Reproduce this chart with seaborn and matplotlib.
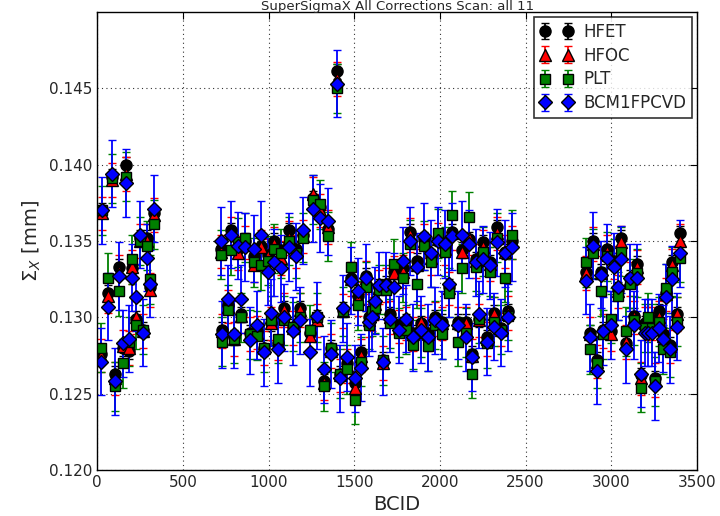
import numpy as np
import pandas as pd
import matplotlib
matplotlib.use("Agg")
import matplotlib.pyplot as plt
import seaborn as sns

# BCID positions of the colliding bunches
bcid = [20, 30, 65, 84, 104, 129, 148, 167, 186, 205, 228, 248, 267, 290, 311, 334,
        724, 728, 762, 782, 801, 820, 840, 860, 894, 913, 932, 955, 971, 994, 1013, 1032,
        1055, 1074, 1093, 1118, 1141, 1162, 1181, 1200, 1242, 1261, 1284, 1300, 1324, 1347,
        1366, 1400, 1417, 1436, 1459, 1484, 1503, 1522, 1541, 1566, 1585, 1604, 1623, 1646,
        1669, 1685, 1708, 1733, 1762, 1785, 1804, 1824, 1843, 1864, 1887, 1906, 1931, 1950,
        1969, 1989, 2012, 2031, 2054, 2069, 2104, 2128, 2152, 2171, 2190, 2211, 2230, 2253,
        2272, 2291, 2317, 2336, 2359, 2378, 2397, 2420,
        2854, 2873, 2896, 2915, 2938, 2953, 2976, 2999, 3017, 3038, 3059, 3088, 3107, 3130,
        3151, 3174, 3194, 3212, 3235, 3257, 3276, 3299, 3318, 3341, 3356, 3381, 3400]

hfet = [0.1276, 0.1370, 0.1316, 0.1392, 0.1263, 0.1333, 0.1280, 0.1400, 0.1278, 0.1332, 0.1299, 0.1352, 0.1292, 0.1352, 0.1320, 0.1368,
        0.1345, 0.1292, 0.1308, 0.1357, 0.1287, 0.1345, 0.1302, 0.1350, 0.1290, 0.1340, 0.1291, 0.1347, 0.1280, 0.1341, 0.1296, 0.1350,
        0.1283, 0.1344, 0.1306, 0.1357, 0.1294, 0.1345, 0.1306, 0.1354, 0.1290, 0.1378, 0.1300, 0.1372, 0.1258, 0.1358,
        0.1280, 0.1461, 0.1263, 0.1305, 0.1270, 0.1326, 0.1257, 0.1314, 0.1277, 0.1327, 0.1300, 0.1303, 0.1310, 0.1320,
        0.1272, 0.1322, 0.1302, 0.1330, 0.1295, 0.1332, 0.1297, 0.1356, 0.1290, 0.1337, 0.1296, 0.1351, 0.1290, 0.1340,
        0.1300, 0.1352, 0.1297, 0.1346, 0.1320, 0.1356, 0.1297, 0.1344, 0.1297, 0.1351, 0.1276, 0.1338, 0.1299, 0.1349,
        0.1287, 0.1336, 0.1303, 0.1359, 0.1293, 0.1343, 0.1304, 0.1350,
        0.1330, 0.1290, 0.1350, 0.1272, 0.1330, 0.1292, 0.1345, 0.1291, 0.1337, 0.1318, 0.1352, 0.1283, 0.1326, 0.1301,
        0.1335, 0.1262, 0.1296, 0.1297, 0.1298, 0.1260, 0.1304, 0.1289, 0.1316, 0.1282, 0.1336, 0.1302, 0.1355]

hfoc = [0.1275, 0.1368, 0.1314, 0.1390, 0.1260, 0.1330, 0.1281, 0.1394, 0.1280, 0.1333, 0.1300, 0.1350, 0.1291, 0.1350, 0.1318, 0.1367,
        0.1343, 0.1291, 0.1307, 0.1355, 0.1286, 0.1342, 0.1301, 0.1349, 0.1289, 0.1334, 0.1290, 0.1346, 0.1280, 0.1340, 0.1296, 0.1348,
        0.1283, 0.1339, 0.1305, 0.1352, 0.1293, 0.1343, 0.1305, 0.1353, 0.1288, 0.1381, 0.1298, 0.1370, 0.1257, 0.1359,
        0.1278, 0.1456, 0.1262, 0.1304, 0.1268, 0.1325, 0.1254, 0.1312, 0.1275, 0.1326, 0.1298, 0.1302, 0.1309, 0.1320,
        0.1270, 0.1321, 0.1300, 0.1329, 0.1294, 0.1330, 0.1296, 0.1354, 0.1289, 0.1334, 0.1297, 0.1350, 0.1289, 0.1339,
        0.1299, 0.1351, 0.1296, 0.1345, 0.1319, 0.1355, 0.1296, 0.1343, 0.1296, 0.1352, 0.1275, 0.1337, 0.1298, 0.1346,
        0.1286, 0.1335, 0.1302, 0.1355, 0.1292, 0.1343, 0.1303, 0.1349,
        0.1329, 0.1289, 0.1348, 0.1271, 0.1329, 0.1291, 0.1343, 0.1289, 0.1336, 0.1317, 0.1349, 0.1284, 0.1325, 0.1300,
        0.1333, 0.1260, 0.1296, 0.1296, 0.1296, 0.1259, 0.1300, 0.1288, 0.1315, 0.1281, 0.1334, 0.1302, 0.1350]

plt_vals = [0.1280, 0.1370, 0.1326, 0.1391, 0.1255, 0.1317, 0.1270, 0.1392, 0.1284, 0.1338, 0.1295, 0.1350, 0.1292, 0.1347, 0.1325, 0.1361,
            0.1341, 0.1284, 0.1305, 0.1344, 0.1286, 0.1349, 0.1300, 0.1352, 0.1289, 0.1336, 0.1288, 0.1334, 0.1280, 0.1337, 0.1298, 0.1345,
            0.1286, 0.1342, 0.1298, 0.1350, 0.1294, 0.1342, 0.1300, 0.1352, 0.1292, 0.1377, 0.1300, 0.1374, 0.1255, 0.1353,
            0.1280, 0.1450, 0.1263, 0.1304, 0.1266, 0.1333, 0.1246, 0.1308, 0.1271, 0.1320, 0.1295, 0.1304, 0.1306, 0.1318,
            0.1272, 0.1318, 0.1296, 0.1335, 0.1290, 0.1326, 0.1292, 0.1348, 0.1282, 0.1322, 0.1290, 0.1347, 0.1281, 0.1336,
            0.1295, 0.1355, 0.1289, 0.1343, 0.1316, 0.1367, 0.1284, 0.1332, 0.1290, 0.1366, 0.1263, 0.1333, 0.1299, 0.1343,
            0.1283, 0.1330, 0.1297, 0.1352, 0.1292, 0.1326, 0.1301, 0.1354,
            0.1336, 0.1279, 0.1342, 0.1270, 0.1317, 0.1289, 0.1340, 0.1299, 0.1335, 0.1314, 0.1343, 0.1291, 0.1322, 0.1298,
            0.1329, 0.1254, 0.1293, 0.1300, 0.1293, 0.1258, 0.1297, 0.1279, 0.1319, 0.1277, 0.1330, 0.1297, 0.1339]

bcm = [0.1271, 0.1370, 0.1307, 0.1394, 0.1258, 0.1327, 0.1283, 0.1388, 0.1286, 0.1326, 0.1313, 0.1354, 0.1290, 0.1339, 0.1322, 0.1371,
       0.1350, 0.1289, 0.1312, 0.1354, 0.1289, 0.1347, 0.1312, 0.1346, 0.1285, 0.1345, 0.1295, 0.1354, 0.1277, 0.1330, 0.1303, 0.1336,
       0.1279, 0.1332, 0.1300, 0.1346, 0.1291, 0.1340, 0.1298, 0.1357, 0.1277, 0.1371, 0.1301, 0.1365, 0.1266, 0.1363,
       0.1276, 0.1453, 0.1260, 0.1306, 0.1274, 0.1324, 0.1260, 0.1317, 0.1267, 0.1326, 0.1297, 0.1300, 0.1311, 0.1321,
       0.1271, 0.1321, 0.1299, 0.1320, 0.1292, 0.1337, 0.1299, 0.1350, 0.1287, 0.1333, 0.1292, 0.1353, 0.1287, 0.1342,
       0.1298, 0.1350, 0.1295, 0.1348, 0.1322, 0.1353, 0.1295, 0.1354, 0.1287, 0.1348, 0.1274, 0.1336, 0.1302, 0.1338,
       0.1284, 0.1334, 0.1294, 0.1349, 0.1290, 0.1342, 0.1300, 0.1346,
       0.1324, 0.1287, 0.1347, 0.1265, 0.1328, 0.1291, 0.1339, 0.1295, 0.1333, 0.1320, 0.1338, 0.1279, 0.1326, 0.1295,
       0.1326, 0.1263, 0.1290, 0.1290, 0.1290, 0.1255, 0.1293, 0.1286, 0.1313, 0.1279, 0.1325, 0.1294, 0.1342]

# typical uncertainties per detector (mm)
err_hfet = 0.0005
err_hfoc = 0.0011
err_plt = 0.0016
err_bcm = 0.0022

df = pd.DataFrame({"BCID": bcid, "HFET": hfet, "HFOC": hfoc, "PLT": plt_vals, "BCM1FPCVD": bcm})

sns.set_style("white")
plt.rcParams["font.family"] = ["DejaVu Sans"]
plt.rcParams["xtick.direction"] = "in"
plt.rcParams["ytick.direction"] = "in"

fig = plt.figure(figsize=(7.2, 5.16), dpi=100)
ax = fig.add_axes([0.135, 0.089, 0.833, 0.888])

styles = [("HFET", "o", "black", err_hfet, 8),
          ("HFOC", "^", "red", err_hfoc, 8),
          ("PLT", "s", "green", err_plt, 7.5),
          ("BCM1FPCVD", "D", "blue", err_bcm, 7.5)]

for name, mk, col, err, ms in styles:
    ax.errorbar(df["BCID"], df[name], yerr=err, fmt=mk, color=col, ecolor=col,
                markerfacecolor=col, markeredgecolor="black", markeredgewidth=1,
                markersize=ms, elinewidth=1.3, capsize=3, capthick=1.3, label=name)

ax.set_xlim(0, 3500)
ax.set_ylim(0.120, 0.150)
ax.set_xticks(np.arange(0, 3501, 500))
ax.set_yticks([0.120, 0.125, 0.130, 0.135, 0.140, 0.145])
ax.set_yticklabels(["0.120", "0.125", "0.130", "0.135", "0.140", "0.145"])
ax.tick_params(axis="both", labelsize=11, top=True, right=True, length=5, color="black")
ax.grid(True, color="black", linestyle=(0, (1, 3)), linewidth=0.8, alpha=0.8)
for sp in ax.spines.values():
    sp.set_color("black")
    sp.set_linewidth(1)

ax.set_xlabel("BCID", fontsize=14)
ax.set_ylabel(r"$\Sigma_X$ [mm]", fontsize=14)
ax.set_title("SuperSigmaX All Corrections Scan: all 11", fontsize=9.5, pad=1)

leg = ax.legend(loc="upper right", numpoints=2, fontsize=12, frameon=True, fancybox=False,
                borderaxespad=0.3, handletextpad=0.6, labelspacing=0.35, borderpad=0.35)
leg.get_frame().set_edgecolor("black")
leg.get_frame().set_linewidth(1.2)

fig.savefig("out.png", dpi=100)
